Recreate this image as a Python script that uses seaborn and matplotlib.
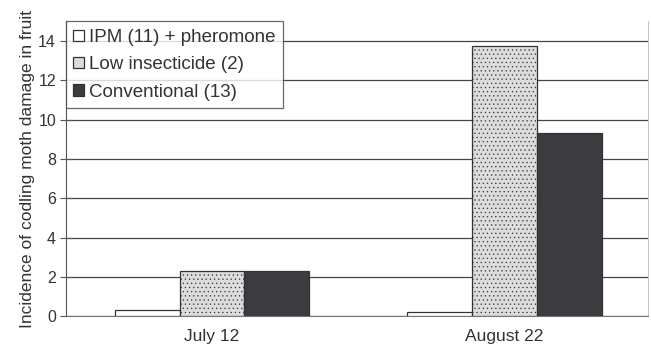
import pandas as pd
import seaborn as sns
import matplotlib.pyplot as plt

dates = ["July 12", "August 22"]
treatments = ["IPM (11) + pheromone", "Low insecticide (2)", "Conventional (13)"]
ipm = [0.3, 0.2]
low_insecticide = [2.3, 13.75]
conventional = [2.3, 9.3]

df = pd.DataFrame({
    "date": dates * 3,
    "treatment": [treatments[0]] * 2 + [treatments[1]] * 2 + [treatments[2]] * 2,
    "value": ipm + low_insecticide + conventional,
})

sns.set_style("white")
plt.rcParams["font.family"] = ["Liberation Sans", "DejaVu Sans"]
plt.rcParams["hatch.color"] = "#b0b0b0"
plt.rcParams["hatch.linewidth"] = 0.4

fig = plt.figure(figsize=(6.51, 3.58), dpi=100)
ax = fig.add_axes([0.101, 0.117, 0.894, 0.823])

palette = {treatments[0]: "white", treatments[1]: "#dcdcdc", treatments[2]: "#3c3c40"}
sns.barplot(data=df, x="date", y="value", hue="treatment", hue_order=treatments,
            palette=palette, width=0.665, edgecolor="#333333", linewidth=0.9,
            saturation=1, ax=ax, zorder=3)

hatches = {treatments[0]: "", treatments[1]: "....", treatments[2]: ""}
for cont, t in zip(ax.containers, treatments):
    for bar in cont:
        bar.set_hatch(hatches[t])

ax.set_ylim(0, 15)
ax.set_xlim(-0.5, 1.49)
ax.set_yticks(range(0, 15, 2))
ax.yaxis.grid(True, color="#444444", linewidth=0.9, zorder=0)
ax.set_axisbelow(True)
ax.tick_params(axis="y", direction="inout", length=8, width=0.8, color="#555555",
               labelsize=11.5, labelcolor="#333333", left=True, pad=3)
ax.tick_params(axis="x", length=0, labelsize=12.5, labelcolor="#333333", pad=9)
ax.set_xlabel("")
ax.set_ylabel("Incidence of codling moth damage in fruit", fontsize=12.5, color="#333333", labelpad=2)

ax.spines["top"].set_visible(False)
ax.spines["left"].set_color("#555555")
ax.spines["bottom"].set_color("#777777")
ax.spines["right"].set_color("#bbbbbb")
ax.spines["right"].set_linewidth(0.6)

leg = ax.legend(loc="upper left", bbox_to_anchor=(0.0, 1.0), fontsize=13.5, frameon=True,
                fancybox=False, edgecolor="#444444", handlelength=0.55, handleheight=0.55,
                handletextpad=0.3, borderpad=0.4, labelspacing=0.55, borderaxespad=0)
leg.get_frame().set_linewidth(0.9)
for txt in leg.get_texts():
    txt.set_color("#333333")

fig.savefig("out.png", dpi=100)
